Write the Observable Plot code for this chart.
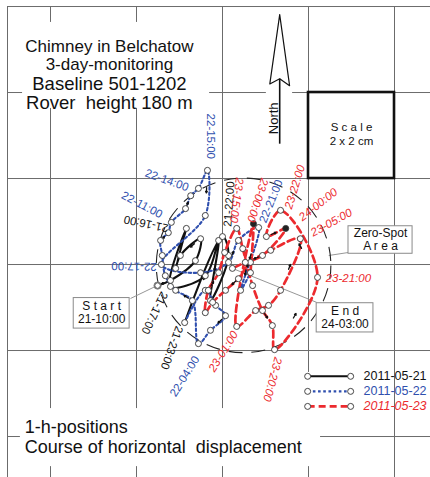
<!DOCTYPE html>
<html><head><meta charset="utf-8">
<script src="https://cdn.jsdelivr.net/npm/d3@7"></script>
<script src="https://cdn.jsdelivr.net/npm/@observablehq/plot@0.6"></script>
<style>body{margin:0;background:#fff}#chart svg{display:block}</style>
</head><body><div id="chart"></div>
<script>
// ---------- data (cm, origin at a grid crossing, north up) ----------
const seriesNames = ["2011-05-21", "2011-05-22", "2011-05-23"];
const seriesColors = ["#111111", "#2f4fae", "#ec2a2e"];

const d21Day  = [21,21,21,21,21,21,21,21,21,21,21,21,21,21];
const d21Hour = [10,11,12,13,14,15,16,17,18,19,20,21,22,23];
const d21X = [-1.51,-1.21,-0.63,-0.51,-0.98,-1.09,-0.84,-1.21,-0.40,-0.09,-0.28,0.14,0.00,-0.88];
const d21Y = [-0.49,-0.37, 0.09, 0.60, 0.21,-0.09, 0.84,-0.51,-0.26, 0.56,-0.84,0.21,0.65,-1.35];

const d22Day  = [22,22,22,22,22,22,22,22,22,22,22,22,22,22,22,22,22,22,22,22,22,22,22,22];
const d22Hour = [0,1,2,3,4,5,6,7,8,9,10,11,12,13,14,15,16,17,18,19,20,21,22,23];
const d22X = [-0.40,-0.16,0.07,-0.28,-0.56,-0.70,-1.09,-1.33,-1.40,-1.44,-1.26,-1.19,-0.86,-0.74,-0.56,-0.35,-0.40,-1.42,-0.51,0.14,0.37,0.84,0.42,0.65];
const d22Y = [-0.60,-0.95,-1.19,-1.53,-1.84,-0.84,-0.60,-0.26,0.21,0.56,0.74,0.98,1.30,1.60,1.77,2.19,1.14,0.00,-0.19,0.05,0.56,0.86,-0.60,-0.19];

const d23Day  = [23,23,23,23,23,23,23,23,23,23,23,23,23,23,23,23,23,23,23,23,23,23,23,23,24,24,24,24];
const d23Hour = [0,1,2,3,4,5,6,7,8,9,10,11,12,13,14,15,16,17,18,19,20,21,22,23,0,1,2,3];
const d23X = [0.72,0.33,0.77,1.07,1.35,1.81,1.12,0.65,0.37,0.07,-0.23,-0.40,-0.33,-0.09,0.05,0.33,0.47,0.70,0.93,1.16,1.21,2.21,1.35,1.02,1.47,0.93,0.53,0.23];
const d23Y = [0.95,-1.44,-1.07,-0.95,-0.60,0.60,0.33,0.05,-0.33,-0.60,-0.88,-1.12,-0.60,-0.19,0.28,0.84,0.37,-0.49,-1.07,-1.42,-1.98,-0.30,1.26,0.65,0.84,0.21,0.05,-0.09];

// segments (index of start point) that carry a direction arrow
const d21Arrows = [0, 3, 6, 9, 12];
const d22Arrows = [2, 5, 9, 12, 15, 19, 21];
const d23Arrows = [0, 4, 8, 12, 16, 18, 20, 21, 23, 25];

const filledTimes = ["23-00:00", "24-00:00"];
const startTime = "21-10:00", endTime = "24-03:00";

// time labels
const labelText = ["22-15:00","22-14:00","22-11:00","21-16:00","22-17:00","21-22:00","23-15:00","23-00:00","22-21:00","23-22:00","24-00:00","23-05:00","23-21:00","21-17:00","21-23:00","22-04:00","23-01:00","23-20:00"];
const labelSeries = [1,1,1,0,1,0,2,2,1,2,2,2,2,0,0,1,2,2];
const labelX = [-0.28,-1.79,-2.33,-1.26,-1.53,0.12,0.40,0.98,0.93,1.53,1.81,2.07,2.40,-1.35,-1.00,-1.16,-0.26,1.30];
const labelY = [3.51,2.14,1.63,0.84,-0.05,0.88,2.02,2.00,0.98,1.30,1.07,0.72,-0.33,-0.65,-1.44,-3.05,-2.47,-2.16];
const labelAngle = [90,20,28,192,181,-86,98,108,-68,-73,-38,-29,0,116,110,-58,-58,105];

// grid (2 cm cells)
const gridX = [-5, -4, -2, 0, 2, 4];
const gridY = [6, 4, 2, 0, -2, -4];

// zero-spot area
const zeroCenter = [0.49, -0.02];
const zeroRadiusCm = 2.03;

// title / caption
const titleLines = ["Chimney in Belchatow", "3-day-monitoring", "Baseline 501-1202", "Rover  height 180 m"];
const titleSizes = [17, 17, 18.5, 18.5];
const titleY = [5.07, 4.65, 4.20, 3.76];
const titleX = -2.63;
const captionLines = ["1-h-positions", "Course of horizontal  displacement"];
const captionY = [-3.79, -4.25];
const captionX = -4.60;

// annotation boxes: [x1, x2, y1, y2]
const startBox = [-3.46, -2.16, -0.78, -1.49];
const startBoxText = ["S t a r t", "21-10:00"];
const startBoxTextY = [-0.97, -1.28];
const endBox = [2.19, 3.51, -0.90, -1.58];
const endBoxText = ["E n d", "24-03:00"];
const endBoxTextY = [-1.08, -1.39];
const zeroBox = [2.93, 4.42, 0.89, 0.25];
const zeroBoxText = ["Zero-Spot", "A r e a"];
const zeroBoxTextY = [0.72, 0.42];
const scaleBox = [2, 4, 4, 2];
const scaleBoxText = ["S c a l e", "2 x 2 cm"];
const scaleBoxTextY = [3.18, 2.86];

// leaders [x1,y1,x2,y2]
const leaders = [[-2.14,-0.79,-1.56,-0.51],[0.23,-0.09,2.19,-0.88],[2.93,0.28,2.47,0.21]];

// north arrow
const northX = [1.33, 1.56, 1.33, 1.10, 1.33];
const northY = [5.81, 4.16, 4.32, 4.20, 5.81];
const northShaft = [1.33, 4.32, 1.33, 2.81];
const northLabel = {text: "North", x: 1.20, y: 3.40};

// legend
const legendY = [-2.60, -2.95, -3.30];
const legendX = [1.98, 2.98, 3.28];

// white backgrounds [x1,x2,y1,y2]
const whiteBoxes = [[-4.65,-0.30,5.63,3.63],[-4.70,2.28,-3.35,-4.70],[1.81,3.95,-2.51,-3.49],[1.02,1.63,4.09,3.91]];

// ---------- build ----------
const W = 430, H = 477;
const xDomain = [-5.163, 4.837], yDomain = [-4.953, 6.14];
const pxPerCm = W / (xDomain[1] - xDomain[0]);
const pad = h => String(h).padStart(2, "0");
const mk = (days, hours, xs, ys, s) => xs.map((x, i) => ({x, y: ys[i], s, t: `${days[i]}-${pad(hours[i])}:00`}));
const series = [mk(d21Day, d21Hour, d21X, d21Y, 0), mk(d22Day, d22Hour, d22X, d22Y, 1), mk(d23Day, d23Hour, d23X, d23Y, 2)];
const arrowsIdx = [d21Arrows, d22Arrows, d23Arrows];
const allPts = series.flat();
const widths = [2.1, 2.1, 2.7];
const dashes = [null, "2.6,2.6", "7,4"];

function arrowData(pts, segs) {
  return segs.map(i => {
    const a = pts[i], b = pts[i + 1];
    const mx = (a.x + b.x) / 2, my = (a.y + b.y) / 2;
    const dx = b.x - a.x, dy = b.y - a.y, L = Math.hypot(dx, dy) || 1;
    return {x1: mx - dx / L * 0.12, y1: my - dy / L * 0.12, x2: mx, y2: my};
  });
}

const font = "Liberation Sans, Arial, Helvetica, sans-serif";
const marks = [];
// grid
marks.push(Plot.ruleX(gridX, {x: d => d, y1: 6, y2: yDomain[0], stroke: "#6b6b6b", strokeWidth: 1}));
marks.push(Plot.ruleY(gridY, {y: d => d, x1: -5, x2: xDomain[1], stroke: "#6b6b6b", strokeWidth: 1}));
// white backgrounds
marks.push(Plot.rect(whiteBoxes, {x1: d => d[0], x2: d => d[1], y1: d => d[2], y2: d => d[3], fill: "white"}));
// leaders
marks.push(Plot.link(leaders, {x1: d => d[0], y1: d => d[1], x2: d => d[2], y2: d => d[3], stroke: "#8a8a8a", strokeWidth: 0.9}));
// zero-spot circle
marks.push(Plot.dot([zeroCenter], {x: d => d[0], y: d => d[1], r: zeroRadiusCm * pxPerCm, stroke: "#222", strokeWidth: 1.1, strokeDasharray: "14,9", fill: "none"}));
// tracks
series.forEach((pts, s) => {
  const linePts = s > 0 ? [series[s - 1][series[s - 1].length - 1], ...pts] : pts;
  const opts = {x: "x", y: "y", stroke: seriesColors[s], strokeWidth: widths[s], curve: "catmull-rom"};
  if (dashes[s]) opts.strokeDasharray = dashes[s];
  marks.push(Plot.line(linePts, opts));
});
series.forEach((pts, s) => {
  marks.push(Plot.arrow(arrowData(pts, arrowsIdx[s]), {x1: "x1", y1: "y1", x2: "x2", y2: "y2", stroke: "#111", strokeWidth: 1.3, headLength: 9}));
});
// hourly positions
marks.push(Plot.dot(allPts, {x: "x", y: "y", r: 3, stroke: "#333", strokeWidth: 0.9, fill: d => filledTimes.includes(d.t) ? "#222" : "white"}));
const startPt = allPts.find(d => d.t === startTime);
marks.push(Plot.dot([startPt, startPt], {x: "x", y: "y", r: (d, i) => i ? 7 : 4, stroke: "#777", strokeWidth: 0.9, fill: "none"}));
// time labels
const labels = labelText.map((t, i) => ({t, s: labelSeries[i], x: labelX[i], y: labelY[i], a: labelAngle[i]}));
marks.push(Plot.text(labels.filter(d => d.s !== 2), {x: "x", y: "y", text: "t", rotate: "a", textAnchor: "start", lineAnchor: "middle", fontSize: 11.5, fontFamily: font, fill: d => seriesColors[d.s]}));
marks.push(Plot.text(labels.filter(d => d.s === 2), {x: "x", y: "y", text: "t", rotate: "a", textAnchor: "start", lineAnchor: "middle", fontSize: 11.5, fontFamily: font, fontStyle: "italic", fill: seriesColors[2]}));
// boxes
const boxes = [startBox, endBox, zeroBox];
marks.push(Plot.rect(boxes, {x1: d => d[0], x2: d => d[1], y1: d => d[2], y2: d => d[3], fill: "white", stroke: "#8a8a8a", strokeWidth: 1}));
marks.push(Plot.rect([scaleBox], {x1: d => d[0], x2: d => d[1], y1: d => d[2], y2: d => d[3], fill: "none", stroke: "#111", strokeWidth: 2.6}));
const boxTexts = [
  [startBox, startBoxText, startBoxTextY], [endBox, endBoxText, endBoxTextY],
  [zeroBox, zeroBoxText, zeroBoxTextY]
].flatMap(([b, txt, ys]) => txt.map((t, i) => ({t, x: (b[0] + b[1]) / 2, y: ys[i]})));
marks.push(Plot.text(boxTexts, {x: "x", y: "y", text: "t", fontSize: 12, fontFamily: font, fill: "#111", lineAnchor: "middle"}));
marks.push(Plot.text(scaleBoxText.map((t, i) => ({t, x: (scaleBox[0] + scaleBox[1]) / 2, y: scaleBoxTextY[i]})), {x: "x", y: "y", text: "t", fontSize: 11.5, fontFamily: font, fill: "#111", lineAnchor: "middle"}));
// north arrow
marks.push(Plot.line(northX.map((x, i) => ({x, y: northY[i]})), {x: "x", y: "y", fill: "white", stroke: "#111", strokeWidth: 1.2}));
marks.push(Plot.link([northShaft], {x1: d => d[0], y1: d => d[1], x2: d => d[2], y2: d => d[3], stroke: "#111", strokeWidth: 1.6}));
marks.push(Plot.text([northLabel], {x: "x", y: "y", text: "text", rotate: -90, fontSize: 13, fontFamily: font, fill: "#111", lineAnchor: "middle"}));
// title & caption
const titleRows = titleLines.map((t, i) => ({t, y: titleY[i], fs: titleSizes[i]}));
marks.push(Plot.text(titleRows.filter(d => d.fs === 17), {x: titleX, y: "y", text: "t", fontSize: 17, fontFamily: font, fill: "#111", lineAnchor: "middle"}));
marks.push(Plot.text(titleRows.filter(d => d.fs !== 17), {x: titleX, y: "y", text: "t", fontSize: 18.5, fontFamily: font, fill: "#111", lineAnchor: "middle"}));
marks.push(Plot.text(captionLines.map((t, i) => ({t, y: captionY[i]})), {x: captionX, y: "y", text: "t", fontSize: 18, fontFamily: font, fill: "#111", textAnchor: "start", lineAnchor: "middle"}));
// legend
seriesNames.forEach((name, s) => {
  const o = {x1: legendX[0], x2: legendX[1], y1: legendY[s], y2: legendY[s], stroke: seriesColors[s], strokeWidth: widths[s]};
  if (dashes[s]) o.strokeDasharray = dashes[s];
  marks.push(Plot.link([name], o));
  marks.push(Plot.dot([legendX[0], legendX[1]], {x: d => d, y: legendY[s], r: 3, stroke: "#333", strokeWidth: 0.9, fill: "white"}));
  marks.push(Plot.text([name], {x: legendX[2], y: legendY[s], text: d => d, textAnchor: "start", lineAnchor: "middle", fontSize: 12.5, fontFamily: font, fill: seriesColors[s], fontStyle: s === 2 ? "italic" : "normal"}));
});

const chart = Plot.plot({
  width: W, height: H, margin: 0,
  x: {domain: xDomain, axis: null},
  y: {domain: yDomain, axis: null},
  style: {background: "white", fontFamily: font},
  marks
});
document.getElementById("chart").append(chart);
</script>
</body></html>
